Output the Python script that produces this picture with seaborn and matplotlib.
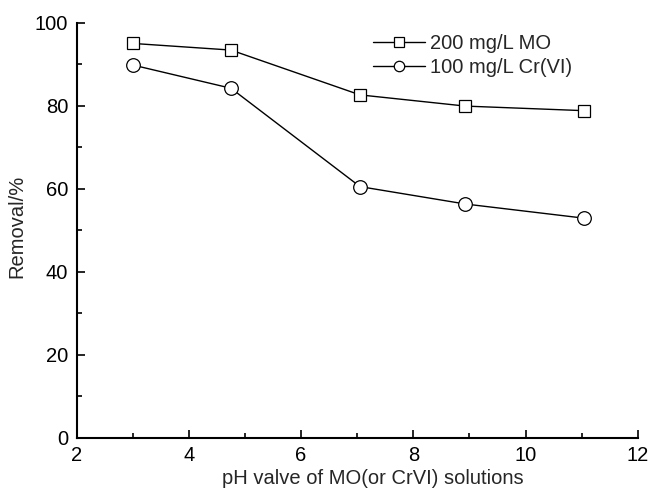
import matplotlib
matplotlib.use("Agg")
import matplotlib.pyplot as plt
import seaborn as sns
import pandas as pd
from matplotlib.ticker import MultipleLocator
from matplotlib.lines import Line2D

ph = [3.0, 4.75, 7.05, 8.93, 11.04]
mo_removal = [95.0, 93.4, 82.6, 79.9, 78.8]
cr_removal = [89.8, 84.2, 60.5, 56.3, 52.9]
labels = ["200 mg/L MO", "100 mg/L Cr(VI)"]

df = pd.DataFrame({
    "pH": ph + ph,
    "Removal": mo_removal + cr_removal,
    "Series": [labels[0]] * len(ph) + [labels[1]] * len(ph),
})

sns.set_theme(style="ticks")
plt.rcParams["font.family"] = ["Liberation Sans", "DejaVu Sans"]

fig = plt.figure(figsize=(6.53, 4.93), dpi=100)
ax = fig.add_axes([0.1174, 0.1122, 0.9766 - 0.1174, 0.954 - 0.1122])

sns.lineplot(data=df, x="pH", y="Removal", hue="Series", style="Series",
             markers={labels[0]: "s", labels[1]: "o"}, dashes=False,
             palette={labels[0]: "black", labels[1]: "black"},
             linewidth=1.0, markersize=9, markerfacecolor="white",
             markeredgecolor="black", markeredgewidth=0.9, ax=ax, legend=False)

for line, ms in zip(ax.get_lines(), [8.8, 9.8]):
    line.set_markersize(ms)
    line.set_markerfacecolor("white")
    line.set_markeredgecolor("black")

ax.set_xlim(2, 12)
ax.set_ylim(0, 100)
ax.xaxis.set_major_locator(MultipleLocator(2))
ax.xaxis.set_minor_locator(MultipleLocator(1))
ax.yaxis.set_major_locator(MultipleLocator(20))
ax.yaxis.set_minor_locator(MultipleLocator(10))
ax.tick_params(which="major", direction="in", length=6, width=1.2,
               labelsize=14.5, color="black", labelcolor="black", pad=6)
ax.tick_params(which="minor", direction="in", length=3.6, width=1.2, color="black")
for s in ["top", "right"]:
    ax.spines[s].set_visible(False)
for s in ["left", "bottom"]:
    ax.spines[s].set_linewidth(1.5)
    ax.spines[s].set_color("black")

ax.set_xlabel("pH valve of MO(or CrVI) solutions", fontsize=14.5, labelpad=3)
ax.set_ylabel("Removal/%", fontsize=14.5, labelpad=6)
ax.xaxis.label.set_x(0.5276)
ax.yaxis.label.set_y(0.509)

handles = [
    Line2D([], [], color="black", lw=1.0, marker="s", markersize=7,
           markerfacecolor="white", markeredgecolor="black", markeredgewidth=0.9),
    Line2D([], [], color="black", lw=1.0, marker="o", markersize=7.5,
           markerfacecolor="white", markeredgecolor="black", markeredgewidth=0.9),
]
ax.legend(handles, labels, loc="upper left", bbox_to_anchor=(373 / 653, 1 - 34 / 493),
          bbox_transform=fig.transFigure, frameon=False, fontsize=14.5,
          handlelength=2.6, handletextpad=0.25, labelspacing=0.25,
          borderaxespad=0, borderpad=0)

fig.savefig("out.png", dpi=100)
